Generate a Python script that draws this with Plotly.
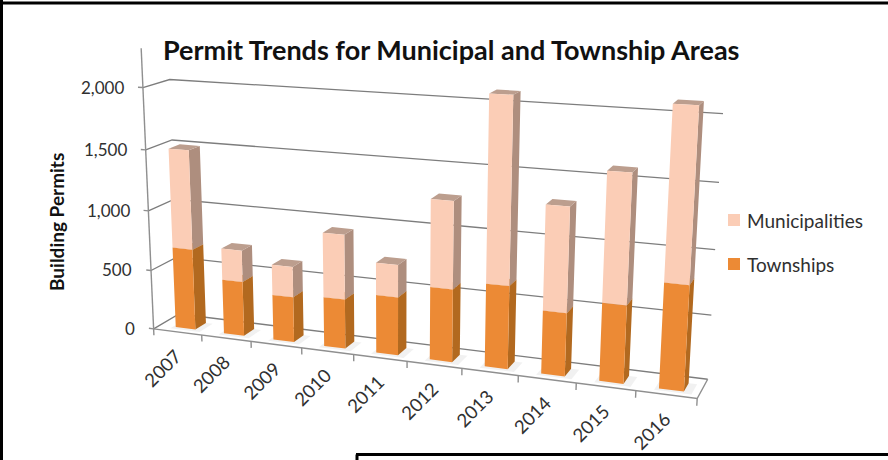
import numpy as np
import plotly.graph_objects as go

# Chart data
years = ["2007", "2008", "2009", "2010", "2011", "2012", "2013", "2014", "2015", "2016"]
townships = [680, 455, 375, 405, 472, 583, 658, 496, 607, 808]
municipalities = [820, 260, 250, 525, 260, 692, 1442, 812, 988, 1297]
value_ticks = [0, 500, 1000, 1500, 2000]
series_names = ["Municipalities", "Townships"]

TITLE = "Permit Trends for Municipal and Township Areas"
COLORS = {
    "Townships": dict(front="#EC8A35", side="#B2691F", top="#C47A30"),
    "Municipalities": dict(front="#FBCDB6", side="#AE8E7E", top="#BC9E8E"),
}

# Perspective camera for the box (category, depth, value), calibrated on its corners
CALIBRATION = [
    ((0, 0, 0), (156, 328)), ((0, 0, 2000), (141, 88)),
    ((0, 1, 0), (177, 315)), ((0, 1, 2000), (172, 79)),
    ((10, 1, 0), (708, 378)), ((10, 1, 2000), (723, 114)),
    ((10, 0, 0), (697, 400)), ((0, 1, 1000), (174, 200)),
    ((10, 1, 1000), (715, 249)), ((0, 0, 1000), (148, 210)),
]


def solve_camera(pairs):
    rows, rhs = [], []
    for (u, d, v), (px, py) in pairs:
        p = [u / 10, d, v / 2000, 1]
        rows.append(p + [0, 0, 0, 0] + [-px * c for c in p[:3]])
        rhs.append(px)
        rows.append([0, 0, 0, 0] + p + [-py * c for c in p[:3]])
        rhs.append(py)
    m = np.linalg.lstsq(np.array(rows, float), np.array(rhs, float), rcond=None)[0]
    return np.append(m, 1).reshape(3, 4)


CAMERA = solve_camera(CALIBRATION)


def project(u, d, v):
    x, y, w = CAMERA @ np.array([u / 10, d, v / 2000, 1])
    return x / w, y / w


def add_polys(xs, ys, polys):
    for poly in polys:
        pts = [project(*p) for p in poly]
        pts.append(pts[0])
        xs.extend(p[0] for p in pts)
        ys.extend(p[1] for p in pts)
        xs.append(None)
        ys.append(None)


def add_fill(fig, polys, color, opacity=1.0):
    xs, ys = [], []
    add_polys(xs, ys, polys)
    fig.add_trace(go.Scatter(x=xs, y=ys, mode="lines", fill="toself", fillcolor=color, opacity=opacity,
                             line=dict(width=0, color=color), hoverinfo="skip", showlegend=False))


def add_lines(fig, segments, color, width):
    xs, ys = [], []
    for seg in segments:
        for p in seg:
            x, y = project(*p)
            xs.append(x)
            ys.append(y)
        xs.append(None)
        ys.append(None)
    fig.add_trace(go.Scatter(x=xs, y=ys, mode="lines", line=dict(color=color, width=width),
                             hoverinfo="skip", showlegend=False))


fig = go.Figure()

# Wall gridlines and floor outline
grid = [[(0, 0, v), (0, 1, v), (10, 1, v)] for v in value_ticks]
add_lines(fig, grid, "#7d7d7d", 1.3)
frame = [[(0, 0, 0), (10, 0, 0), (10, 1, 0)],
         [(0, 0, 0), (0, 0, 2310)]]
frame += [[(-0.1, 0, v), (0, 0, v)] for v in value_ticks]
frame += [[(i, 0, 0), (i, 0, -55)] for i in range(11)]
add_lines(fig, frame, "#8f8f8f", 1.4)

# Soft floor shadows beneath the bars
BAR_U = (0.33, 0.74)
BAR_D = (0.25, 0.68)
add_fill(fig, [[(i + BAR_U[0] - 0.06, BAR_D[0] - 0.1, 0), (i + BAR_U[1] + 0.14, BAR_D[0] - 0.1, 0),
                (i + BAR_U[1] + 0.14, BAR_D[1], 0), (i + BAR_U[0] - 0.06, BAR_D[1], 0)]
               for i in range(len(years))], "#cfcfcf", 0.3)

# Stacked bars: side, top and front faces for each series
u0, u1 = BAR_U
d0, d1 = BAR_D
base = [0] * len(years)
for name, values in (("Townships", townships), ("Municipalities", municipalities)):
    sides, tops, fronts = [], [], []
    for i, val in enumerate(values):
        lo, hi = base[i], base[i] + val
        fronts.append([(i + u0, d0, lo), (i + u1, d0, lo), (i + u1, d0, hi), (i + u0, d0, hi)])
        sides.append([(i + u1, d0, lo), (i + u1, d1, lo), (i + u1, d1, hi), (i + u1, d0, hi)])
        tops.append([(i + u0, d0, hi), (i + u1, d0, hi), (i + u1, d1, hi), (i + u0, d1, hi)])
        base[i] = hi
    add_fill(fig, sides, COLORS[name]["side"])
    add_fill(fig, tops, COLORS[name]["top"])
    add_fill(fig, fronts, COLORS[name]["front"])

# Axis labels
annotations = []
for v in value_ticks:
    x, y = project(-0.1, 0, v)
    annotations.append(dict(x=x, y=y, text=f"{v:,}", xanchor="right", yanchor="middle", xshift=-12,
                            showarrow=False, font=dict(family="Lato", size=17, color="#303030")))
for i, year in enumerate(years):
    x, y = project(i + 0.5, 0, 0)
    annotations.append(dict(x=x, y=y, text=year, textangle=-45, xanchor="center", yanchor="middle",
                            xshift=-15, yshift=-36, showarrow=False,
                            font=dict(family="Lato", size=18.5, color="#303030")))
annotations.append(dict(x=451, y=49, text=f"<b>{TITLE}</b>", showarrow=False,
                        font=dict(family="Lato", size=27, color="#111111")))
annotations.append(dict(x=56, y=222, text="<b>Building Permits</b>", textangle=-90, showarrow=False,
                        font=dict(family="Lato", size=19, color="#111111")))

# Key, placed in the right margin
for name, key_y in zip(series_names, (220, 264)):
    fig.add_trace(go.Scatter(x=[734], y=[key_y], mode="markers", name=name, showlegend=False,
                             marker=dict(symbol="square", size=12, color=COLORS[name]["front"])))
    annotations.append(dict(x=745, y=key_y, text=name, xanchor="left", yanchor="middle", showarrow=False,
                            font=dict(family="Lato", size=19, color="#303030")))

# Page border pieces
border = [
    dict(type="line", x0=1.5, x1=1.5, y0=0, y1=460),
    dict(type="line", x0=0, x1=888, y0=3, y1=3),
    dict(type="line", x0=356, x1=888, y0=454.5, y1=454.5),
    dict(type="line", x0=357, x1=357, y0=454.5, y1=460),
]
for s in border:
    s.update(xref="x", yref="y", line=dict(color="black", width=3))

fig.update_layout(
    width=888, height=460, margin=dict(l=0, r=0, t=0, b=0),
    paper_bgcolor="white", plot_bgcolor="white", showlegend=False,
    xaxis=dict(range=[0, 888], visible=False, fixedrange=True),
    yaxis=dict(range=[460, 0], visible=False, fixedrange=True),
    annotations=annotations, shapes=border,
)
fig.write_html("out.html", config=dict(displayModeBar=False))
